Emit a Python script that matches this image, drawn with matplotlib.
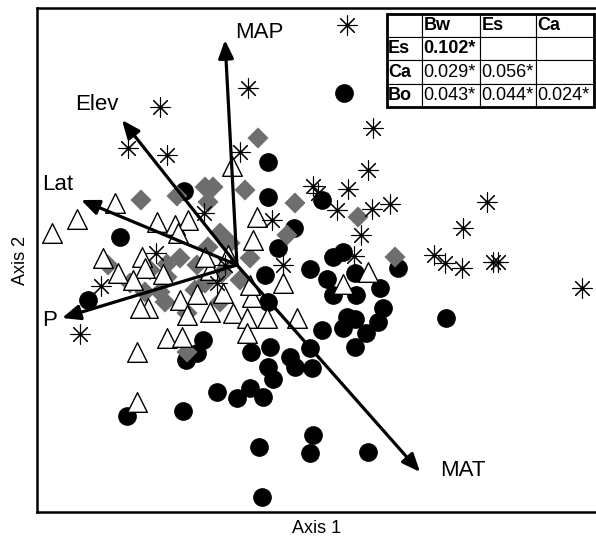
import matplotlib
matplotlib.use("Agg")
import matplotlib.pyplot as plt
from matplotlib.patches import Rectangle

plt.rcParams['font.family'] = ['Liberation Sans', 'DejaVu Sans']

# ordination scores, group with black circles
circ_x = [2.14, 0.62, 0.62, -1.06, -2.34, 1.14, 0.82, 1.70, 1.92, 2.12, 1.46, 3.22, 0.56,
          1.80, 2.36, 2.86, 1.92, 2.38, 2.92, 0.62, 2.20, 2.36, 2.12, 2.82, 1.70, 2.58,
          2.36, 4.18, 0.66, 0.28, 1.06, 1.46, 1.16, 1.50, 0.62, 0.72, 0.26, 0.52, 0.00,
          -0.40, -0.68, -0.80, -1.02, -1.08, -2.20, -2.98, 0.44, 0.50, 1.52, 1.46, 2.62]
circ_y = [3.44, 2.06, 1.36, 1.48, 0.56, 0.74, 0.34, 1.30, 0.16, 0.26, -0.08, -0.06, -0.20,
          -0.28, -0.16, -0.46, -0.60, -0.60, -0.86, -0.74, -1.04, -1.08, -1.26, -1.14, -1.30, -1.36,
          -1.64, -1.06, -1.64, -1.74, -1.84, -1.66, -2.04, -2.06, -2.04, -2.28, -2.46, -2.64, -2.66,
          -2.54, -1.50, -1.76, -1.90, -2.92, -3.02, -0.70, -3.64, -4.64, -3.40, -3.76, -3.74]

# asterisks
star_x = [2.20, 0.22, -1.54, -2.18, -1.40, 0.06, 2.72, 2.62, 1.52, 1.62, 2.22, 2.00, 2.70,
          3.06, 2.48, 2.34, 5.00, 4.52, 3.94, 4.16, 4.50, 5.12, 5.22, 6.90, -0.66, 0.70,
          -1.62, 0.92, -2.72, -3.14, -0.40, -0.24]
star_y = [4.80, 3.54, 3.16, 2.34, 2.20, 2.26, 2.74, 1.90, 1.58, 1.44, 1.52, 1.10, 1.12,
          1.22, 0.60, 0.18, 1.26, 0.74, 0.20, 0.04, -0.06, 0.06, 0.06, -0.46, 1.04, 0.90,
          0.24, 0.00, -0.42, -1.38, -0.36, 0.00]

# grey diamonds
diam_x = [0.42, -0.64, -0.48, -0.58, -1.20, 0.16, 1.16, -1.92, 2.42, 3.16, -2.58, -2.14, -1.84,
          -1.54, -1.40, -1.44, -1.00, -1.00, -0.34, -0.34, -0.58, -0.14, -1.14, -1.40, -0.80,
          -0.30, -0.64, 0.06, 0.26, 1.00, -0.84, -1.74]
diam_y = [2.54, 1.56, 1.56, 1.26, 1.38, 1.50, 1.24, 1.30, 0.96, 0.16, 0.00, -0.36, -0.54,
          -0.54, -0.24, -0.74, -0.96, -1.74, -0.74, 0.64, 0.36, 0.44, 0.14, 0.02, 0.00,
          -0.16, -0.36, -0.30, 0.14, 0.60, -0.50, -0.10]

# open triangles
tri_x = [-0.10, -2.44, -3.20, -3.70, -1.60, -1.24, -0.98, -1.18, 0.40, -2.68, -1.90, -2.38, -1.84,
         -2.08, -1.48, 0.32, 2.62, 2.12, 0.92, 0.60, 1.20, -1.78, -1.94, -1.14, -1.00, -0.54,
         -0.80, -0.08, 0.20, 0.20, -1.40, -1.10, -2.00, -2.00, 0.30, -0.28, 0.26, -0.54, -0.18, -0.64]
tri_y = [1.98, 1.24, 0.92, 0.64, 0.86, 0.80, 0.90, 0.64, 0.96, 0.14, 0.16, -0.16, -0.06,
         -0.30, -0.18, 0.50, -0.14, -0.38, -0.36, -1.06, -1.06, -0.86, -0.86, -0.70, -1.00, -0.94,
         -0.58, -0.96, -1.06, -1.36, -1.46, -1.44, -1.74, -2.74, -0.64, -0.56, -0.40, -0.10, 0.20, 0.16]

# environmental vectors
vec_names = ['MAP', 'Elev', 'Lat', 'P', 'MAT']
vec_x = [-0.24, -2.30, -3.12, -3.50, 3.66]
vec_y = [4.50, 2.90, 1.30, -1.06, -4.14]
lab_x = [-0.04, -2.80, -3.90, -3.90, 4.06]
lab_y = [4.66, 3.20, 1.62, -1.10, -4.10]
lab_ha = ['left', 'center', 'left', 'left', 'left']

# pairwise table
col_labels = ['', 'Bw', 'Es', 'Ca']
row_labels = ['Es', 'Ca', 'Bo']
cell_text = [['0.102*', '', ''],
             ['0.029*', '0.056*', ''],
             ['0.043*', '0.044*', '0.024*']]

fig = plt.figure(figsize=(5.96, 5.43), dpi=100)
ax = fig.add_axes([37 / 596, 31 / 543, 559 / 596, 504 / 543])

ax.scatter(circ_x, circ_y, s=155, marker='o', c='black', edgecolors='black', zorder=2)
ax.scatter(diam_x, diam_y, s=115, marker='D', c='#6e6e6e', edgecolors='none', zorder=3)
ax.scatter(tri_x, tri_y, s=200, marker='^', facecolors='white', edgecolors='black',
           linewidths=1.0, zorder=4)
ax.scatter(star_x, star_y, s=190, marker=(8, 2, 0), c='black', linewidths=0.8, zorder=5)

for name, vx, vy, tx, ty, ha in zip(vec_names, vec_x, vec_y, lab_x, lab_y, lab_ha):
    ax.annotate('', xy=(vx, vy), xytext=(0, 0),
                arrowprops=dict(arrowstyle='-|>,head_length=0.9,head_width=0.38',
                                color='black', lw=2.3, mutation_scale=12,
                                shrinkA=0, shrinkB=0),
                zorder=6)
    ax.text(tx, ty, name, fontsize=16, ha=ha, va='center', zorder=7)

ax.set_xlim(-4.0, 7.18)
ax.set_ylim(-4.94, 5.14)
ax.set_xticks([])
ax.set_yticks([])
ax.spines['right'].set_visible(False)
for s in ['left', 'top', 'bottom']:
    ax.spines[s].set_linewidth(1.8)
ax.set_xlabel('Axis 1', fontsize=13, labelpad=6)
ax.set_ylabel('Axis 2', fontsize=13, labelpad=6)

# table in upper right
rows = [col_labels] + [[r] + c for r, c in zip(row_labels, cell_text)]
bbox = [0.626, 0.804, 0.370, 0.184]
tab = ax.table(cellText=rows, cellLoc='left', bbox=bbox, zorder=8)
tab.auto_set_font_size(False)
widths = [35, 58, 56, 58]
for (r, c), cell in tab.get_celld().items():
    cell.set_width(widths[c] / 207 * bbox[2])
    cell.set_linewidth(0.8)
    cell.PAD = 0.03
    txt = cell.get_text()
    txt.set_fontsize(13)
    if r == 0 or c == 0 or (r == 1 and c == 1):
        txt.set_fontweight('bold')
ax.add_patch(Rectangle((bbox[0], bbox[1]), bbox[2], bbox[3], transform=ax.transAxes,
                       fill=False, lw=2, edgecolor='black', zorder=9, clip_on=False))

fig.savefig('out.png', dpi=100)
